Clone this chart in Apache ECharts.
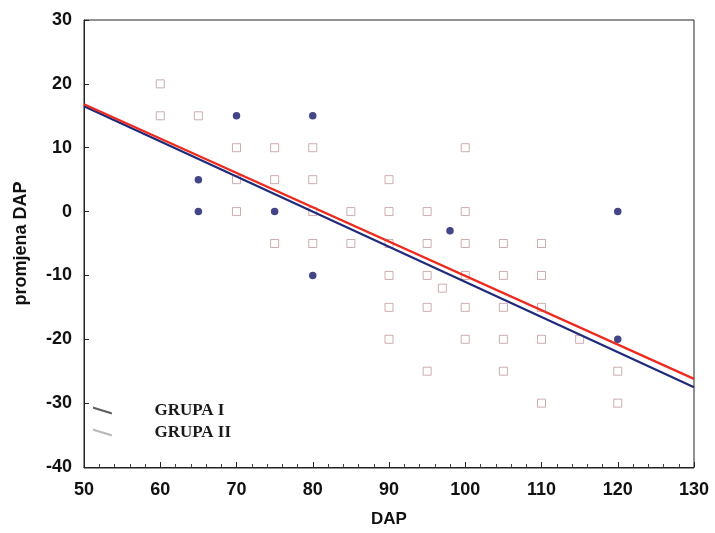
<!DOCTYPE html>
<html>
<head>
<meta charset="utf-8">
<script src="https://cdn.jsdelivr.net/npm/echarts@6/dist/echarts.min.js"></script>
<style>
  html, body { margin: 0; padding: 0; background: #fff; }
  #chart { width: 715px; height: 533px; }
</style>
</head>
<body>
<div id="chart"></div>
<script>
// GRUPA I - puni krugovi
const grupa1X = [65, 65, 70, 75, 80, 80, 98, 120, 120];
const grupa1Y = [5, 0, 15, 0, 15, -10, -3, 0, -20];

// GRUPA II - prazni kvadrati
const grupa2X = [60, 60, 65,
  70, 75, 80, 100,
  70, 75, 80, 90,
  70, 80, 85, 90, 95, 100,
  75, 80, 85, 90, 95, 100, 105, 110,
  90, 95, 100, 105, 110,
  97,
  90, 95, 100, 105, 110,
  90, 100, 105, 110, 115,
  95, 105, 120,
  110, 120];
const grupa2Y = [20, 15, 15,
  10, 10, 10, 10,
  5, 5, 5, 5,
  0, 0, 0, 0, 0, 0,
  -5, -5, -5, -5, -5, -5, -5, -5,
  -10, -10, -10, -10, -10,
  -12,
  -15, -15, -15, -15, -15,
  -20, -20, -20, -20, -20,
  -25, -25, -25,
  -30, -30];

// regresijski pravci (krajnje tocke)
const lineX = [50, 130];
const line1Y = [16.5, -27.5];
const line2Y = [16.8, -26.2];

const zip = (xs, ys) => xs.map((x, i) => [x, ys[i]]);

const FONT = '"Liberation Sans", Arial, sans-serif';
const LEGEND_ICON = 'path://M0,0 L20,6 L20,8.5 L0,2.5 Z';
const chart = echarts.init(document.getElementById('chart'));

chart.setOption({
  animation: false,
  backgroundColor: '#fff',
  grid: { left: 84, right: 21, top: 20, bottom: 65, show: false },
  legend: {
    orient: 'vertical',
    left: 88,
    top: 397,
    itemWidth: 20,
    itemHeight: 8,
    itemGap: 5,
    selectedMode: false,
    textStyle: {
      fontFamily: '"Liberation Serif", "Times New Roman", serif',
      fontWeight: 'bold',
      fontSize: 17,
      color: '#1a1a1a',
      padding: [0, 0, 0, 37]
    },
    data: [
      { name: 'GRUPA I', icon: LEGEND_ICON,
        itemStyle: { color: '#3a3a3a', borderWidth: 0 }, lineStyle: { color: '#3a3a3a' } },
      { name: 'GRUPA II', icon: LEGEND_ICON,
        itemStyle: { color: '#a8a8a8', borderWidth: 0 }, lineStyle: { color: '#a8a8a8' } }
    ]
  },
  xAxis: {
    type: 'value',
    min: 50, max: 130, interval: 10,
    name: 'DAP',
    nameLocation: 'middle',
    nameGap: 44,
    nameTextStyle: { fontFamily: FONT, fontWeight: 'bold', fontSize: 17, color: '#111' },
    axisLine: { show: true, onZero: false, lineStyle: { color: '#222', width: 1 } },
    axisTick: { show: true, inside: true, length: 5, lineStyle: { color: '#222' } },
    minorTick: { show: true, splitNumber: 5, length: 3, lineStyle: { color: '#444' } },
    axisLabel: { fontFamily: FONT, fontWeight: 'bold', fontSize: 18, color: '#111', margin: 14 },
    splitLine: { show: false }
  },
  yAxis: {
    type: 'value',
    min: -40, max: 30, interval: 10,
    name: 'promjena DAP',
    nameLocation: 'middle',
    nameGap: 54,
    nameTextStyle: { fontFamily: FONT, fontWeight: 'bold', fontSize: 18, color: '#111' },
    axisLine: { show: true, onZero: false, lineStyle: { color: '#222', width: 1 } },
    axisTick: { show: true, inside: true, length: 5, lineStyle: { color: '#222' } },
    axisLabel: { fontFamily: FONT, fontWeight: 'bold', fontSize: 18, color: '#111', margin: 12 },
    splitLine: { show: false }
  },
  graphic: [{
    type: 'rect',
    shape: { x: 84, y: 20, width: 610, height: 448 },
    style: { fill: 'none', stroke: '#222', lineWidth: 1 },
    silent: true,
    z: 0
  }],
  series: [
    {
      name: 'GRUPA II',
      type: 'scatter',
      symbol: 'rect',
      symbolSize: 8,
      itemStyle: { color: '#fff', borderColor: '#c09a9a', borderWidth: 1 },
      data: zip(grupa2X, grupa2Y),
      z: 2
    },
    {
      name: 'GRUPA I',
      type: 'scatter',
      symbol: 'circle',
      symbolSize: 7.5,
      itemStyle: { color: '#141868' },
      data: zip(grupa1X, grupa1Y),
      z: 4
    },
    {
      name: 'GRUPA I',
      type: 'line',
      showSymbol: false,
      lineStyle: { color: '#1f2a7a', width: 2.2 },
      data: zip(lineX, line1Y),
      z: 3
    },
    {
      name: 'GRUPA II',
      type: 'line',
      showSymbol: false,
      lineStyle: { color: '#ee2a1e', width: 2.2 },
      data: zip(lineX, line2Y),
      z: 3
    }
  ]
});
</script>
</body>
</html>
